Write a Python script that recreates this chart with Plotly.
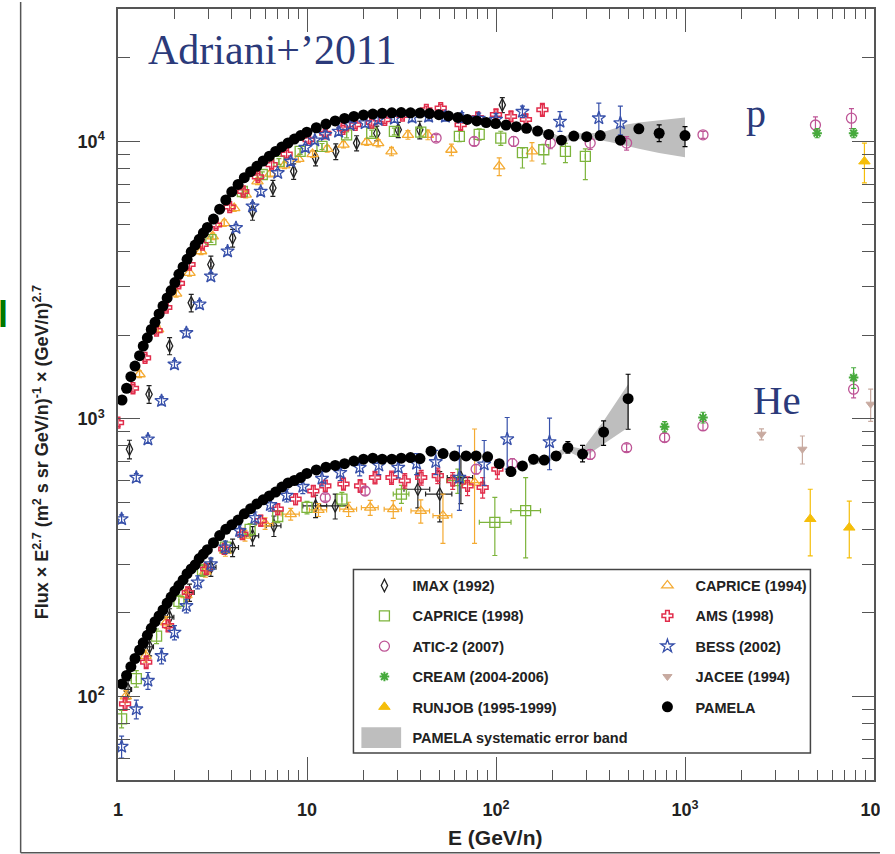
import plotly.graph_objects as go

# ---------------- data (E in GeV/n, flux x E^2.7) ----------------
# PAMELA protons
PAM_P_E = [1.05, 1.11, 1.17, 1.23, 1.30, 1.36, 1.43, 1.50, 1.57, 1.65, 1.73, 1.82, 1.91, 2.00,
           2.10, 2.21, 2.32, 2.44, 2.56, 2.69, 2.83, 2.97, 3.20, 3.45, 3.72, 4.00, 4.32, 4.66,
           5.03, 5.43, 5.86, 6.32, 6.82, 7.36, 7.94, 8.57, 9.25, 9.98, 11.2, 12.6, 14.1, 15.8,
           17.7, 19.9, 22.3, 25.0, 28.1, 31.5, 35.3, 39.6, 44.5, 49.9, 56.0, 62.8, 70.5, 79.1,
           88.7, 99.6, 113, 128, 145, 166, 190, 222, 258, 302, 356, 455, 570, 730, 1000]
PAM_P_F = [1170, 1290, 1420, 1550, 1690, 1830, 1960, 2100, 2230, 2390, 2550, 2730, 2900, 3100,
           3320, 3530, 3760, 4000, 4230, 4440, 4680, 4900, 5250, 5700, 6150, 6580, 7000, 7400,
           7780, 8130, 8500, 8850, 9200, 9550, 9870, 10200, 10500, 10800, 11200, 11550, 11850, 12100,
           12300, 12450, 12550, 12620, 12680, 12700, 12680, 12650, 12600, 12480, 12350, 12200, 12000, 11850,
           11700, 11600, 11450, 11300, 11150, 10900, 10600, 10100, 10450, 10400, 10500, 10100, 11100, 10700, 10500]
PAM_P_ERR_E = [570, 730, 1000]
PAM_P_ERR_UP = [300, 770, 810]
PAM_P_ERR_DN = [300, 710, 920]

# PAMELA helium
PAM_HE_E = [1.05, 1.11, 1.17, 1.23, 1.30, 1.36, 1.43, 1.50, 1.57, 1.65, 1.73, 1.82, 1.91, 2.00,
            2.10, 2.21, 2.32, 2.44, 2.56, 2.69, 2.83, 2.97, 3.20, 3.45, 3.72, 4.00, 4.32, 4.66,
            5.03, 5.43, 5.86, 6.32, 6.82, 7.36, 7.94, 8.57, 9.25, 9.98, 11.2, 12.6, 14.1, 15.8,
            17.7, 19.9, 22.3, 25.0, 28.1, 31.5, 35.3, 39.6, 45.3, 52.5, 60.4, 69.5, 78.5, 90.3,
            104, 120, 138, 158, 180, 208, 240, 287, 371, 500]
PAM_HE_F = [111, 119, 128, 137, 147, 156, 166, 176, 186, 195, 205, 217, 228, 240,
            251, 263, 277, 288, 298, 314, 326, 338, 358, 380, 400, 416, 432, 455,
            475, 494, 511, 528, 545, 568, 588, 600, 615, 636, 655, 670, 680, 690,
            705, 716, 722, 716, 716, 722, 726, 720, 765, 750, 736, 736, 736, 730,
            690, 646, 677, 716, 711, 736, 788, 747, 897, 1183]
PAM_HE_ERR_E = [180, 208, 240, 287, 371, 500]
PAM_HE_ERR_UP = [20, 25, 40, 56, 87, 266]
PAM_HE_ERR_DN = [20, 25, 35, 47, 94, 265]

# PAMELA systematic error band
BAND_P_E = [150, 190, 222, 258, 302, 356, 400, 490, 570, 730, 1000]
BAND_P_UP = [11350, 10850, 10350, 10700, 10700, 10750, 11000, 11500, 11700, 11950, 12200]
BAND_P_LO = [10950, 10350, 9850, 10200, 10150, 10100, 9950, 9650, 9400, 9080, 8760]
BAND_HE_E = [150, 180, 208, 240, 287, 371, 500]
BAND_HE_UP = [720, 730, 755, 800, 780, 984, 1333]
BAND_HE_LO = [680, 695, 718, 765, 720, 813, 931]

# IMAX (1992)
IMAX_P_E = [1.15, 1.46, 1.875, 2.44, 3.10, 4.04, 5.15, 6.6, 8.5, 11.1, 14.2, 18.3, 23.4, 30.4, 39.5, 108]
IMAX_P_F = [778, 1228, 1833, 2620, 3600, 4490, 5600, 6790, 7800, 8710, 9200, 9860, 10700, 11020, 11020, 13540]
IMAX_P_ERR = [60, 90, 130, 190, 260, 330, 400, 450, 500, 550, 600, 620, 650, 700, 800, 850]
IMAX_HE_E = [1.13, 1.47, 1.875, 2.39, 3.10, 4.04, 5.15, 6.68, 11.1, 14.1, 38.6, 50.4, 65.2]
IMAX_HE_F = [106, 151, 193, 237, 292, 344, 379, 412, 486, 486, 558, 536, 615]
IMAX_HE_ERR = [8, 11, 14, 17, 21, 25, 30, 35, 45, 50, 80, 110, 120]
IMAX_HE_XERR = [0.05, 0.07, 0.1, 0.14, 0.2, 0.3, 0.4, 0.6, 1.6, 2.3, 6, 8, 10]

# CAPRICE (1994)
C94_P_E = [1.30, 1.63, 2.03, 2.39, 2.75, 3.17, 3.65, 4.12, 4.74, 5.47, 6.4, 7.6, 9.0, 10.7, 12.8,
           15.6, 20.7, 23.8, 28.0, 34.2, 43.6, 58.1, 104, 155]
C94_P_F = [1449, 2104, 2828, 3360, 4020, 4550, 5080, 5750, 6430, 7180, 7650, 8200, 8650, 9000, 9400,
           9730, 9950, 9860, 9200, 10560, 10560, 9330, 8130, 9200]
C94_P_ERR = [40, 60, 80, 90, 110, 120, 140, 150, 170, 190, 200, 220, 230, 240, 250,
             260, 280, 300, 320, 380, 420, 450, 600, 700]
C94_HE_E = [1.1, 1.4, 1.8, 2.3, 2.9, 3.7, 4.7, 6.0, 8.2, 11.5, 16.6, 21.6, 28.6, 40, 52.4, 77]
C94_HE_F = [100, 140, 185, 232, 282, 335, 380, 420, 454, 470, 473, 479, 473, 466, 448, 590]
C94_HE_EUP = [5, 7, 9, 11, 13, 15, 17, 20, 22, 25, 28, 30, 35, 45, 88, 330]
C94_HE_EDN = [5, 7, 9, 11, 13, 15, 17, 20, 22, 25, 28, 30, 35, 45, 92, 234]
C94_HE_XERR = [0, 0, 0, 0, 0, 0, 0, 0.6, 0.9, 1.2, 1.7, 2.2, 3.0, 4.5, 6.0, 9.0]

# CAPRICE (1998)
C98_P_E = [3.1, 4.55, 5.8, 7.1, 9.2, 12.0, 16.2, 22.0, 29.0, 40.0, 64.0, 81.5, 106, 138, 179, 233, 297]
C98_P_F = [4430, 6600, 7600, 8470, 9200, 9590, 10560, 10700, 10860, 10800, 10420, 10600, 10280,
           9110, 9330, 9200, 8830]
C98_P_EUP = [100, 150, 170, 200, 220, 240, 260, 280, 300, 350, 450, 500, 600, 360, 420, 650, 570]
C98_P_EDN = [100, 150, 170, 200, 220, 240, 260, 280, 300, 350, 450, 500, 600, 1090, 1030, 820, 1550]
C98_HE_E = [1.045, 1.25, 1.6, 2.1, 2.8, 3.7, 5.0, 7.0, 10, 15.3, 31.6, 62.8, 98.6, 143.5]
C98_HE_F = [83, 116, 165, 220, 285, 345, 400, 445, 480, 514, 536, 599, 424, 467]
C98_HE_EUP = [6, 8, 10, 12, 14, 17, 20, 22, 25, 30, 40, 60, 98, 148]
C98_HE_EDN = [6, 8, 10, 12, 14, 17, 20, 22, 25, 30, 40, 60, 102, 151]
C98_HE_XUP = [0, 0, 0, 0, 0, 0, 0, 0, 0, 0, 3, 8, 21.5, 28.5]
C98_HE_XDN = [0, 0, 0, 0, 0, 0, 0, 0, 0, 0, 3, 8, 17, 23.5]

# AMS (1998)
AMS_P_E = [1.0, 1.2, 1.39, 1.6, 1.8, 2.1, 2.39, 2.8, 3.3, 3.9, 4.6, 5.5, 6.5, 7.8, 10.2, 12.5,
           15.5, 18.0, 22.0, 25.8, 32.0, 42.8, 51.0, 65.0, 80.0, 100, 120, 144, 176]
AMS_P_F = [970, 1290, 1660, 2080, 2520, 3080, 3600, 4250, 5000, 5800, 6600, 7450, 8250, 9000, 10140,
           10700, 11100, 11480, 11700, 11970, 12400, 12990, 13180, 11480, 12200, 12500, 12300, 12000, 13000]
AMS_P_ERR = [30, 40, 50, 60, 75, 90, 110, 130, 150, 170, 200, 220, 250, 270, 300, 320,
             330, 340, 350, 360, 370, 400, 420, 450, 500, 550, 500, 550, 700]
AMS_HE_E = [1.09, 1.41, 1.84, 2.34, 2.93, 3.65, 4.55, 5.69, 7.0, 8.7, 10.8, 12.5, 15.6, 19.1,
            22.9, 28.0, 32.9, 40.2, 49.2, 59.0, 70.7, 85.0, 101.7]
AMS_HE_F = [94, 133, 180, 237, 288, 340, 385, 430, 473, 514, 550, 574, 583, 574,
            615, 615, 599, 615, 625, 599, 574, 566, 659]
AMS_HE_ERR = [5, 7, 9, 11, 13, 15, 17, 19, 21, 23, 25, 27, 29, 30, 32, 34, 36, 38, 40, 42, 45, 48, 52]

# ATIC-2 (2007)
ATIC_P_E = [48.2, 76.7, 124, 194, 315, 491, 1245, 4900, 7600]
ATIC_P_F = [10280, 10000, 10000, 9860, 9860, 9860, 10560, 11460, 12130]
ATIC_P_ERR = [300, 350, 400, 450, 500, 550, 300, 800, 1000]
ATIC_HE_E = [12.5, 20.3, 78.5, 122, 315, 491, 780, 1245, 7800]
ATIC_HE_F = [521, 550, 659, 690, 745, 788, 857, 944, 1280]
ATIC_HE_ERR = [15, 18, 25, 30, 30, 25, 30, 35, 90]

# BESS (2002)
BESS_P_E = [1.045, 1.25, 1.44, 1.70, 1.99, 2.30, 2.70, 3.10, 3.80, 4.21, 5.15, 5.69, 7.0, 8.2,
            9.8, 11.0, 12.5, 14.7, 16.9, 20.3, 23.8, 29.0, 36.0, 44.0, 54.0, 66.0, 81.0, 100,
            138, 218, 350, 455]
BESS_P_F = [436, 615, 845, 1162, 1574, 2042, 2587, 3267, 4020, 4880, 5840, 6600, 7700, 8470,
            9500, 10100, 10570, 10860, 11480, 11640, 11970, 12100, 12200, 12300, 12300, 12200, 12100, 12000,
            12800, 11800, 12130, 11640]
BESS_P_EUP = [15, 20, 28, 38, 50, 65, 80, 100, 120, 140, 170, 190, 220, 240,
              260, 280, 300, 320, 340, 360, 380, 400, 420, 450, 480, 500, 550, 600,
              600, 1000, 1600, 1760]
BESS_P_EDN = [15, 20, 28, 38, 50, 65, 80, 100, 120, 140, 170, 190, 220, 240,
              260, 280, 300, 320, 340, 360, 380, 400, 420, 450, 480, 500, 550, 600,
              600, 940, 1570, 1080]
BESS_HE_E = [1.045, 1.25, 1.44, 1.70, 1.99, 2.30, 2.64, 3.1, 3.7, 4.4, 5.3, 6.4, 7.8, 9.5,
             12.0, 15.0, 19.0, 24.0, 30.4, 38.0, 48.0, 64.0, 86.6, 114.6, 192]
BESS_HE_F = [66, 90, 114, 140, 170, 212, 258, 300, 345, 395, 440, 490, 530, 570,
             610, 640, 668, 680, 668, 690, 700, 615, 686, 846, 826]
BESS_HE_EUP = [6, 7, 8, 9, 10, 12, 14, 16, 18, 20, 22, 25, 28, 32, 36, 40, 45, 50, 55, 60, 70,
               185, 150, 166, 180]
BESS_HE_EDN = [6, 7, 8, 9, 10, 12, 14, 16, 18, 20, 22, 25, 28, 32, 36, 40, 45, 50, 55, 60, 70,
               147, 110, 187, 170]

# CREAM (2004-2006)
CREAM_E = [5000, 7800, 780, 1245, 7800]
CREAM_F = [10710, 10710, 938, 1012, 1409]
CREAM_ERR = [400, 400, 40, 45, 120]

# JACEE (1994)
JACEE_E = [2540, 4180, 9600]
JACEE_F = [881, 778, 1130]
JACEE_ERR = [40, 90, 150]

# RUNJOB (1995-1999)
RUNJOB_E = [8900, 4600, 7400]
RUNJOB_F = [8470, 436, 406]
RUNJOB_EUP = [1390, 122, 100]
RUNJOB_EDN = [1380, 115, 90]

X_TICKS = [1, 10, 100, 1000, 10000]
X_TICKTEXT = ["1", "10", "10<sup>2</sup>", "10<sup>3</sup>", "10<sup>4</sup>"]
Y_TICKS = [100, 1000, 10000]
Y_TICKTEXT = ["10<sup>2</sup>", "10<sup>3</sup>", "10<sup>4</sup>"]

# ---------------- styles ----------------
C_IMAX = "#222222"
C_C94 = "rgb(244,170,50)"
C_C98 = "rgb(125,180,60)"
C_AMS = "rgb(225,45,75)"
C_ATIC = "rgb(190,85,150)"
C_BESS = "rgb(55,80,170)"
C_CREAM = "rgb(70,170,60)"
C_JACEE = "rgb(200,170,160)"
C_RUNJOB = "rgb(245,190,10)"
C_BAND = "rgb(190,190,190)"

SANS = "Liberation Sans, Arial, sans-serif"
SERIF = "Liberation Serif, Times New Roman, serif"

fig = go.Figure()

# systematic band polygons (drawn first, behind markers)
for be, bu, bl in [(BAND_P_E, BAND_P_UP, BAND_P_LO), (BAND_HE_E, BAND_HE_UP, BAND_HE_LO)]:
    fig.add_trace(go.Scatter(x=be + be[::-1], y=bu + bl[::-1], fill="toself", mode="lines",
                             line=dict(width=0), fillcolor=C_BAND, showlegend=False,
                             hoverinfo="skip"))


def lname(t):
    return "<b>" + t + "</b>"


def add_series(name, x, y, color, symbol, size, lw, eup, edn=None, xup=None, xdn=None,
               width=222):
    ey = dict(type="data", array=eup, arrayminus=edn if edn is not None else eup,
              color=color, thickness=1.2, width=2.5, visible=True)
    kw = {}
    if xup is not None:
        kw["error_x"] = dict(type="data", array=xup, arrayminus=xdn if xdn is not None else xup,
                             color=color, thickness=1.2, width=2.5, visible=True)
    mk = dict(symbol=symbol, size=size, color=color, line=dict(color=color, width=lw))
    fig.add_trace(go.Scatter(x=x, y=y, mode="markers", name=lname(name), marker=mk,
                             error_y=ey, legendgroup=name, legendwidth=width, **kw))


def err_lookup(es, keys, vals):
    d = dict(zip(keys, vals))
    return [d.get(e, 0) for e in es]


def zeros(n):
    return [0] * n


# IMAX
add_series("IMAX (1992)", IMAX_P_E + IMAX_HE_E, IMAX_P_F + IMAX_HE_F, C_IMAX, "diamond-tall-open", 9, 1.3,
           IMAX_P_ERR + IMAX_HE_ERR, xup=zeros(len(IMAX_P_E)) + IMAX_HE_XERR, width=222)
# CAPRICE 1994
add_series("CAPRICE (1994)", C94_P_E + C94_HE_E, C94_P_F + C94_HE_F, C_C94, "triangle-up-open", 10, 1.3,
           C94_P_ERR + C94_HE_EUP, C94_P_ERR + C94_HE_EDN,
           xup=zeros(len(C94_P_E)) + C94_HE_XERR, width=140)
# CAPRICE 1998
add_series("CAPRICE (1998)", C98_P_E + C98_HE_E, C98_P_F + C98_HE_F, C_C98, "square-open", 10, 1.3,
           C98_P_EUP + C98_HE_EUP, C98_P_EDN + C98_HE_EDN,
           xup=zeros(len(C98_P_E)) + C98_HE_XUP, xdn=zeros(len(C98_P_E)) + C98_HE_XDN, width=222)
# AMS
add_series("AMS (1998)", AMS_P_E + AMS_HE_E, AMS_P_F + AMS_HE_F, C_AMS, "cross-open", 9, 1.5,
           AMS_P_ERR + AMS_HE_ERR, width=140)
# ATIC-2
add_series("ATIC-2 (2007)", ATIC_P_E + ATIC_HE_E, ATIC_P_F + ATIC_HE_F, C_ATIC, "circle-open", 10, 1.3,
           ATIC_P_ERR + ATIC_HE_ERR, width=222)
# BESS
add_series("BESS (2002)", BESS_P_E + BESS_HE_E, BESS_P_F + BESS_HE_F, C_BESS, "star-open", 10, 1.3,
           BESS_P_EUP + BESS_HE_EUP, BESS_P_EDN + BESS_HE_EDN, width=140)
# CREAM
add_series("CREAM (2004-2006)", CREAM_E, CREAM_F, C_CREAM, "asterisk-open", 8, 2.0, CREAM_ERR, width=222)
# JACEE
add_series("JACEE (1994)", JACEE_E, JACEE_F, C_JACEE, "triangle-down", 8, 1, JACEE_ERR, width=140)
# RUNJOB
add_series("RUNJOB (1995-1999)", RUNJOB_E, RUNJOB_F, C_RUNJOB, "triangle-up", 10, 1,
           RUNJOB_EUP, RUNJOB_EDN, width=222)
# PAMELA
add_series("PAMELA", PAM_P_E + PAM_HE_E, PAM_P_F + PAM_HE_F, "black", "circle", 11, 0,
           err_lookup(PAM_P_E, PAM_P_ERR_E, PAM_P_ERR_UP) + err_lookup(PAM_HE_E, PAM_HE_ERR_E, PAM_HE_ERR_UP),
           err_lookup(PAM_P_E, PAM_P_ERR_E, PAM_P_ERR_DN) + err_lookup(PAM_HE_E, PAM_HE_ERR_E, PAM_HE_ERR_DN),
           width=140)
# legend entry for the band (its swatch is a shape)
fig.add_trace(go.Scatter(x=[None], y=[None], mode="markers", name=lname("PAMELA systematic error band"),
                         marker=dict(color="rgba(0,0,0,0)", size=1), legendgroup="band",
                         legendwidth=222))

# ---------------- layout ----------------
L, R, T, B = 118, 16, 7, 74
W, H = 895, 854
PW, PH = W - L - R, H - T - B


def px(xp):
    return (xp - L) / PW


def py(yp):
    return (T + PH - yp) / PH


axis_common = dict(type="log", showline=True, linecolor="#555", linewidth=1.5, mirror="ticks",
                   ticks="inside", tickcolor="#555", tickwidth=1.4, showgrid=False, zeroline=False,
                   tickfont=dict(family=SANS, size=18, color="#222", weight="bold"))

fig.update_layout(
    width=W, height=H, margin=dict(l=L, r=R, t=T, b=B),
    paper_bgcolor="white", plot_bgcolor="white",
    xaxis=dict(range=[0, 4], tickmode="array", tickvals=X_TICKS, ticktext=X_TICKTEXT, ticklen=23,
               minor=dict(ticks="inside", ticklen=10, dtick="D1", tickcolor="#555", tickwidth=1.2,
                          showgrid=False),
               ticklabelstandoff=13, **axis_common),
    yaxis=dict(range=[1.69897, 4.47712], tickmode="array", tickvals=Y_TICKS, ticktext=Y_TICKTEXT,
               ticklen=22,
               minor=dict(ticks="inside", ticklen=12, dtick="D1", tickcolor="#555", tickwidth=1.2,
                          showgrid=False),
               ticklabelstandoff=8, **axis_common),
    showlegend=True,
    legend=dict(x=px(358), y=py(569), xanchor="left", yanchor="top", orientation="h",
                traceorder="grouped", tracegroupgap=8.5, itemwidth=46, borderwidth=0,
                bgcolor="rgba(0,0,0,0)",
                font=dict(family=SANS, size=14.5, color="#222")),
    shapes=[
        # legend frame
        dict(type="rect", xref="paper", yref="paper", x0=px(355), x1=px(815), y0=py(753), y1=py(569),
             line=dict(color="#444", width=1.5), fillcolor="white", layer="above"),
        # band swatch in legend
        dict(type="rect", xref="paper", yref="paper", x0=px(363), x1=px(403), y0=py(748), y1=py(727),
             line=dict(width=0), fillcolor=C_BAND, layer="above"),
        # outer frame (left and bottom)
        dict(type="line", xref="paper", yref="paper", x0=px(20), x1=px(20), y0=py(0), y1=py(853),
             line=dict(color="#555", width=1.5)),
        dict(type="line", xref="paper", yref="paper", x0=px(20), x1=px(885), y0=py(853), y1=py(853),
             line=dict(color="#555", width=1.5)),
        # crop of the right edge
        dict(type="rect", xref="paper", yref="paper", x0=px(885), x1=px(900), y0=py(850), y1=py(785),
             line=dict(width=0), fillcolor="white", layer="above"),
    ],
    annotations=[
        dict(text="Flux × E<sup>2.7</sup> (m<sup>2</sup> s sr GeV/n)<sup>-1</sup> × (GeV/n)<sup>2.7</sup>",
             xref="paper", yref="paper", x=px(41), y=py(452), textangle=-90, showarrow=False,
             xanchor="center", yanchor="middle",
             font=dict(family=SANS, size=18, color="#222", weight="bold")),
        dict(text="E (GeV/n)", xref="paper", yref="paper", x=px(498), y=py(838), showarrow=False,
             xanchor="center", yanchor="middle",
             font=dict(family=SANS, size=21, color="#222", weight="bold")),
        dict(text="Adriani+’2011", xref="paper", yref="paper", x=px(146), y=py(48), showarrow=False,
             xanchor="left", yanchor="middle", font=dict(family=SERIF, size=42, color="#2b3a7a")),
        dict(text="p", xref="paper", yref="paper", x=px(760), y=py(112), showarrow=False,
             xanchor="center", yanchor="middle", font=dict(family=SERIF, size=40, color="#2b3a7a")),
        dict(text="He", xref="paper", yref="paper", x=px(781), y=py(399), showarrow=False,
             xanchor="center", yanchor="middle", font=dict(family=SERIF, size=41, color="#2b3a7a")),
        dict(text="l", xref="paper", yref="paper", x=px(2), y=py(313), showarrow=False,
             xanchor="center", yanchor="middle",
             font=dict(family=SANS, size=36, color="rgb(0,120,0)", weight="bold")),
    ],
)

fig.write_html("out.html")
